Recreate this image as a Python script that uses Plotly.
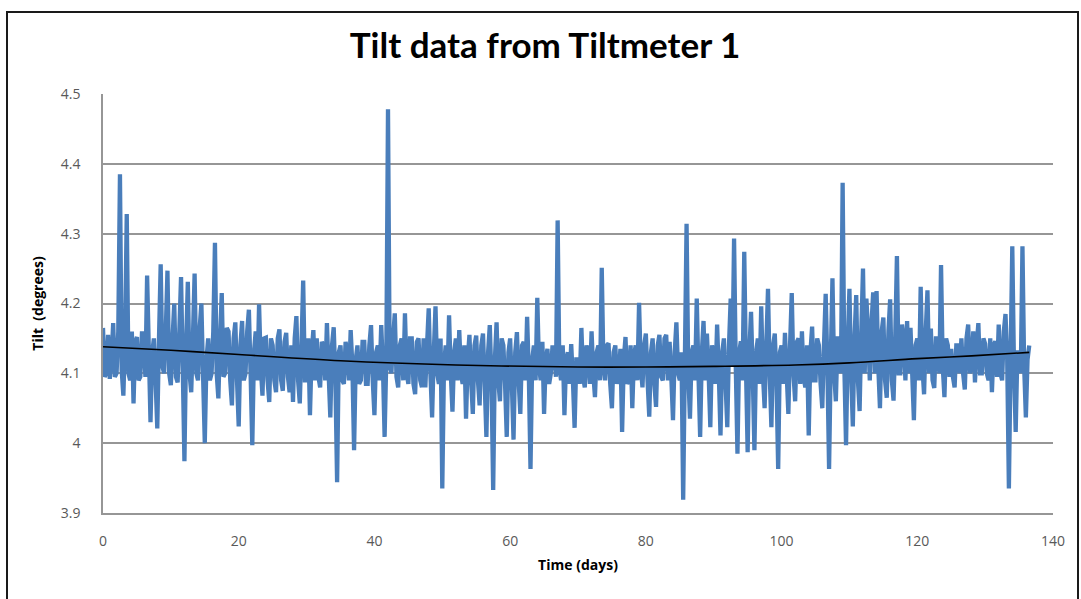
import numpy as np
import plotly.graph_objects as go

# Tiltmeter readings, one sample every quarter day starting at day 0
sample_step = 0.25
tilt = [
    # days 0 - 4.75
    4.165, 4.095, 4.100, 4.155, 4.092, 4.120, 4.172, 4.095, 4.100, 4.160,
    4.385, 4.105, 4.068, 4.150, 4.328, 4.100, 4.090, 4.160, 4.057, 4.145,
    # days 5 - 9.75
    4.152, 4.090, 4.095, 4.160, 4.148, 4.095, 4.240, 4.120, 4.030, 4.130,
    4.150, 4.090, 4.021, 4.150, 4.256, 4.110, 4.100, 4.160, 4.247, 4.100,
    # days 10 - 14.75
    4.083, 4.150, 4.200, 4.095, 4.087, 4.160, 4.238, 4.110, 3.974, 4.140,
    4.231, 4.100, 4.073, 4.150, 4.243, 4.100, 4.090, 4.165, 4.200, 4.095,
    # days 15 - 19.75
    4.000, 4.120, 4.150, 4.090, 4.100, 4.160, 4.287, 4.100, 4.064, 4.150,
    4.215, 4.095, 4.100, 4.165, 4.160, 4.090, 4.054, 4.150, 4.173, 4.090,
    # days 20 - 24.75
    4.024, 4.140, 4.175, 4.090, 4.100, 4.160, 4.191, 4.100, 3.997, 4.130,
    4.160, 4.090, 4.199, 4.110, 4.068, 4.150, 4.151, 4.090, 4.059, 4.150,
    # days 25 - 29.75
    4.140, 4.090, 4.073, 4.150, 4.163, 4.090, 4.075, 4.145, 4.158, 4.095,
    4.073, 4.140, 4.059, 4.150, 4.182, 4.090, 4.057, 4.140, 4.233, 4.090,
    # days 30 - 34.75
    4.090, 4.150, 4.040, 4.130, 4.162, 4.090, 4.150, 4.095, 4.080, 4.145,
    4.140, 4.090, 4.172, 4.100, 4.037, 4.140, 4.166, 4.090, 3.944, 4.130,
    # days 35 - 39.75
    4.140, 4.090, 4.085, 4.145, 4.130, 4.090, 4.162, 4.110, 3.990, 4.120,
    4.140, 4.085, 4.090, 4.145, 4.145, 4.085, 4.085, 4.140, 4.169, 4.090,
    # days 40 - 44.75
    4.040, 4.130, 4.140, 4.090, 4.169, 4.110, 4.009, 4.120, 4.478, 4.110,
    4.100, 4.150, 4.186, 4.095, 4.080, 4.140, 4.150, 4.090, 4.186, 4.100,
    # days 45 - 49.75
    4.085, 4.150, 4.150, 4.085, 4.070, 4.145, 4.150, 4.090, 4.080, 4.150,
    4.080, 4.140, 4.193, 4.100, 4.037, 4.130, 4.196, 4.100, 4.085, 4.150,
    # days 50 - 54.75
    3.935, 4.110, 4.140, 4.090, 4.183, 4.100, 4.045, 4.130, 4.150, 4.090,
    4.162, 4.100, 4.085, 4.140, 4.035, 4.120, 4.155, 4.090, 4.042, 4.140,
    # days 55 - 59.75
    4.154, 4.090, 4.054, 4.140, 4.157, 4.085, 4.009, 4.130, 4.169, 4.090,
    3.933, 4.120, 4.173, 4.090, 4.060, 4.150, 4.140, 4.085, 4.009, 4.130,
    # days 60 - 64.75
    4.150, 4.085, 4.005, 4.130, 4.159, 4.090, 4.042, 4.140, 4.145, 4.090,
    4.181, 4.100, 3.963, 4.120, 4.140, 4.090, 4.208, 4.110, 4.090, 4.145,
    # days 65 - 69.75
    4.042, 4.120, 4.135, 4.085, 4.100, 4.140, 4.130, 4.095, 4.319, 4.110,
    4.090, 4.140, 4.040, 4.120, 4.130, 4.085, 4.142, 4.090, 4.022, 4.120,
    # days 70 - 74.75
    4.120, 4.085, 4.165, 4.095, 4.080, 4.140, 4.130, 4.085, 4.160, 4.100,
    4.066, 4.130, 4.140, 4.090, 4.251, 4.110, 4.090, 4.140, 4.143, 4.085,
    # days 75 - 79.75
    4.050, 4.130, 4.140, 4.085, 4.095, 4.135, 4.016, 4.120, 4.152, 4.085,
    4.090, 4.140, 4.050, 4.125, 4.140, 4.090, 4.201, 4.110, 4.080, 4.140,
    # days 80 - 84.75
    4.157, 4.090, 4.038, 4.130, 4.150, 4.085, 4.052, 4.140, 4.155, 4.095,
    4.090, 4.150, 4.155, 4.090, 4.145, 4.095, 4.033, 4.130, 4.173, 4.100,
    # days 85 - 89.75
    4.090, 4.130, 3.919, 4.120, 4.314, 4.100, 4.035, 4.130, 4.140, 4.090,
    4.207, 4.100, 4.009, 4.130, 4.175, 4.090, 4.157, 4.100, 4.023, 4.140,
    # days 90 - 94.75
    4.130, 4.085, 4.170, 4.100, 4.011, 4.130, 4.150, 4.085, 4.023, 4.140,
    4.207, 4.110, 4.293, 4.110, 3.985, 4.130, 4.146, 4.090, 4.274, 4.110,
    # days 95 - 99.75
    3.987, 4.130, 4.188, 4.100, 3.990, 4.130, 4.150, 4.085, 4.196, 4.100,
    4.050, 4.140, 4.221, 4.100, 4.023, 4.140, 4.157, 4.090, 3.963, 4.130,
    # days 100 - 104.75
    4.140, 4.085, 4.158, 4.100, 4.042, 4.140, 4.215, 4.100, 4.060, 4.145,
    4.150, 4.085, 4.160, 4.095, 4.080, 4.140, 4.011, 4.130, 4.167, 4.090,
    # days 105 - 109.75
    4.090, 4.150, 4.140, 4.085, 4.050, 4.140, 4.214, 4.110, 3.963, 4.120,
    4.236, 4.100, 4.060, 4.150, 4.150, 4.100, 4.373, 4.110, 3.997, 4.140,
    # days 110 - 114.75
    4.221, 4.100, 4.024, 4.150, 4.212, 4.090, 4.046, 4.160, 4.250, 4.100,
    4.207, 4.160, 4.090, 4.170, 4.216, 4.100, 4.218, 4.110, 4.050, 4.160,
    # days 115 - 119.75
    4.180, 4.090, 4.065, 4.160, 4.206, 4.090, 4.061, 4.150, 4.268, 4.100,
    4.100, 4.170, 4.150, 4.090, 4.175, 4.100, 4.165, 4.100, 4.033, 4.140,
    # days 120 - 124.75
    4.150, 4.090, 4.224, 4.110, 4.070, 4.160, 4.219, 4.100, 4.164, 4.090,
    4.079, 4.150, 4.150, 4.100, 4.255, 4.110, 4.066, 4.150, 4.140, 4.095,
    # days 125 - 129.75
    4.135, 4.095, 4.080, 4.140, 4.140, 4.100, 4.150, 4.100, 4.077, 4.150,
    4.170, 4.100, 4.110, 4.160, 4.087, 4.140, 4.172, 4.100, 4.100, 4.150,
    # days 130 - 136.5
    4.142, 4.100, 4.090, 4.150, 4.073, 4.140, 4.146, 4.095, 4.170, 4.100,
    4.090, 4.160, 4.185, 4.120, 3.935, 4.120, 4.282, 4.110, 4.016, 4.130,
    4.130, 4.100, 4.282, 4.110, 4.037, 4.120, 4.140,
]
days = np.arange(len(tilt)) * sample_step

# Smooth trend through the record
trend_days = [0, 10, 20, 35, 52, 70, 80, 90, 102, 110, 120, 128, 136.5]
trend_vals = [4.138, 4.133, 4.127, 4.118, 4.112, 4.109, 4.109, 4.110, 4.112, 4.115, 4.121, 4.125, 4.130]

y_ticks = [3.9, 4.0, 4.1, 4.2, 4.3, 4.4, 4.5]
y_labels = ["3.9", "4", "4.1", "4.2", "4.3", "4.4", "4.5"]
x_ticks = [0, 20, 40, 60, 80, 100, 120, 140]

fig = go.Figure()
fig.add_trace(go.Scatter(
    x=days, y=tilt, mode="lines",
    line=dict(color="#4a7ebb", width=4.3),
    showlegend=False, hoverinfo="skip",
))
fig.add_trace(go.Scatter(
    x=trend_days, y=trend_vals, mode="lines",
    line=dict(color="#000000", width=1.6, shape="spline"),
    showlegend=False, hoverinfo="skip",
))

label_font = dict(family="Open Sans, Liberation Sans, sans-serif", size=14, color="#595959")

fig.update_layout(
    width=1081, height=599,
    margin=dict(l=103, r=28, t=94, b=86),
    paper_bgcolor="white", plot_bgcolor="white",
    title=dict(
        text="<b>Tilt data from Tiltmeter 1</b>",
        x=545 / 1081, xanchor="center", xref="container",
        y=1 - 46 / 599, yanchor="middle", yref="container",
        font=dict(family="Lato, Open Sans, sans-serif", size=35, color="#000000"),
    ),
    xaxis=dict(
        range=[0, 140], tickvals=x_ticks, ticktext=[str(v) for v in x_ticks],
        showgrid=False, zeroline=False,
        showline=True, linecolor="#969696", linewidth=1.5,
        ticks="", ticklabelstandoff=14, tickfont=label_font,
        title=dict(text="<b>Time (days)</b>", standoff=12,
                   font=dict(family="Open Sans, sans-serif", size=14, color="#000000")),
    ),
    yaxis=dict(
        range=[3.9, 4.5], tickvals=y_ticks, ticktext=y_labels,
        showgrid=True, gridcolor="#969696", gridwidth=1.5,
        zeroline=False,
        showline=True, linecolor="#969696", linewidth=1.5,
        ticks="", ticklabelstandoff=18, tickfont=label_font,
        title=dict(text="<b>Tilt  (degrees)</b>", standoff=14,
                   font=dict(family="Open Sans, sans-serif", size=14, color="#000000")),
    ),
    shapes=[
        # chart frame
        dict(type="rect", xref="paper", yref="paper",
             x0=(7 - 103) / 950, x1=(1078 - 103) / 950,
             y0=(513 - 620) / 419, y1=(513 - 12) / 419,
             line=dict(color="#1a1a1a", width=2), layer="below"),
    ],
)

fig.write_html("out.html")
